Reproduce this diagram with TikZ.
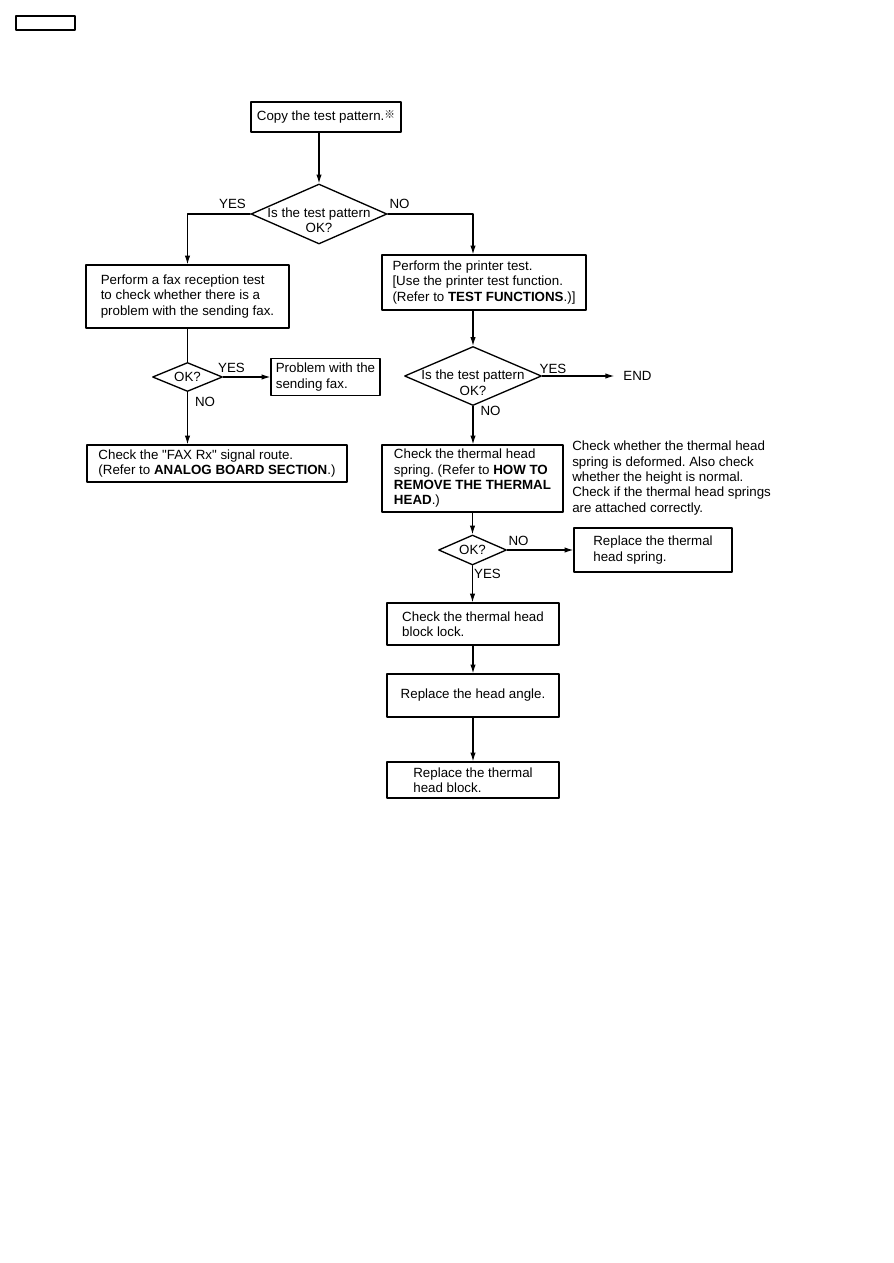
\documentclass[tikz,border=0pt]{standalone}
\usepackage{fontspec}
\setmainfont{Liberation Sans}[Ligatures=TeXOff]
\newfontfamily\cjk{Noto Sans CJK JP}
\usetikzlibrary{arrows.meta,shapes.geometric,positioning}
\frenchspacing

\begin{document}
\begin{tikzpicture}[x=0.75pt,y=-0.75pt,line cap=round,line join=round,
  font=\fontsize{10pt}{11.5pt}\selectfont,
  box/.style={draw,line width=1pt,rectangle,align=left,inner sep=0pt},
  dia/.style={draw,line width=1pt,diamond,aspect=2.3,inner sep=0pt},
  lbl/.style={inner sep=0pt},
  arr/.style={line width=0.8pt,-{Latex[length=6.5pt,width=4pt]}},
  ln/.style={line width=0.8pt}]
  \useasboundingbox (0,0) rectangle (893,1263);
  \node[draw,line width=1pt,minimum width=44.25pt,minimum height=10.5pt,inner sep=0pt] (tag) at (45.5,23) {};

  \node[box,minimum width=112.5pt,minimum height=22.5pt] (copy) at (326,117)
    {Copy the test pattern.{\cjk\fontsize{8pt}{8pt}\selectfont\raisebox{1.5pt}{※}}};
  \node[dia,minimum width=102pt,minimum height=45pt,
    label={[lbl,align=center,yshift=-4.5pt]center:Is the test pattern\\OK?}] (d1) at (319,214) {};

  \node[box,minimum width=152.25pt,minimum height=47.25pt] (fax) at (187.5,296.5)
    {Perform a fax reception test\\to check whether there is a\\problem with the sending fax.};
  \node[dia,minimum width=52.5pt,minimum height=21.75pt] (ok1) at (187.5,377) {OK?};
  \node[box,minimum width=81.75pt,minimum height=27.75pt] (prob) at (325.5,377)
    {Problem with the\\sending fax.};
  \node[box,minimum width=195pt,minimum height=27.75pt] (rx) at (217,463.5)
    {Check the "FAX Rx" signal route.\\(Refer to \textbf{ANALOG BOARD SECTION}.)};

  \node[box,minimum width=153pt,minimum height=41.25pt] (printer) at (484,282.5)
    {Perform the printer test.\\{}[Use the printer test function.\\(Refer to \textbf{TEST FUNCTIONS}.)]};
  \node[dia,minimum width=102.75pt,minimum height=44.25pt,
    label={[lbl,align=center,yshift=-5pt]center:Is the test pattern\\OK?}] (d2) at (473,376) {};
  \node[lbl,inner xsep=6.75pt] (end) at (637.5,376) {END};

  \node[box,minimum width=135.75pt,minimum height=50.25pt] (thermal) at (472.5,478.5)
    {Check the thermal head\\spring. (Refer to \textbf{HOW TO}\\\textbf{REMOVE THE THERMAL}\\\textbf{HEAD}.)};
  \node[lbl,align=left,anchor=north west] (note) at (572,441)
    {Check whether the thermal head\\spring is deformed. Also check\\whether the height is normal.\\Check if the thermal head springs\\are attached correctly.};
  \node[dia,minimum width=51pt,minimum height=22.5pt] (ok2) at (472.5,550) {OK?};
  \node[box,minimum width=118.5pt,minimum height=33pt] (spring) at (653,550)
    {Replace the thermal\\head spring.};
  \node[box,minimum width=129pt,minimum height=31.5pt] (lock) at (473,624)
    {Check the thermal head\\block lock.};
  \node[box,minimum width=129pt,minimum height=32.25pt] (angle) at (473,695.5)
    {Replace the head angle.};
  \node[box,minimum width=129pt,minimum height=27pt] (last) at (473,780)
    {Replace the thermal\\head block.};

  \node[lbl] (y1) at (232.5,204) {YES};
  \node[lbl] (n1) at (399.5,204) {NO};
  \node[lbl] (y2) at (231.5,367.5) {YES};
  \node[lbl] (n2) at (205,401.5) {NO};
  \node[lbl] (y3) at (553,368.5) {YES};
  \node[lbl] (n3) at (490.5,411) {NO};
  \node[lbl] (n4) at (518.5,541) {NO};
  \node[lbl] (y4) at (487.5,574) {YES};

  \draw[arr] (d1.north |- copy.south) -- (d1.north);
  \draw[arr] (d1.west) -| (fax.north);
  \draw[arr] (d1.east) -| (d2.north |- printer.north);
  \draw[ln] (fax.south) -- (ok1.north);
  \draw[arr] (ok1.east) -- (prob.west);
  \draw[arr] (ok1.south) -- (ok1.south |- rx.north);
  \draw[arr] (d2.north |- printer.south) -- (d2.north);
  \draw[arr] (d2.east) -- (end.west);
  \draw[arr] (d2.south) -- (d2.south |- thermal.north);
  \draw[arr] (thermal.south) -- (ok2.north);
  \draw[arr] (ok2.east) -- (spring.west);
  \draw[arr] (ok2.south) -- (ok2.south |- lock.north);
  \draw[arr] (lock.south) -- (angle.north);
  \draw[arr] (angle.south) -- (last.north);
\end{tikzpicture}
\end{document}
